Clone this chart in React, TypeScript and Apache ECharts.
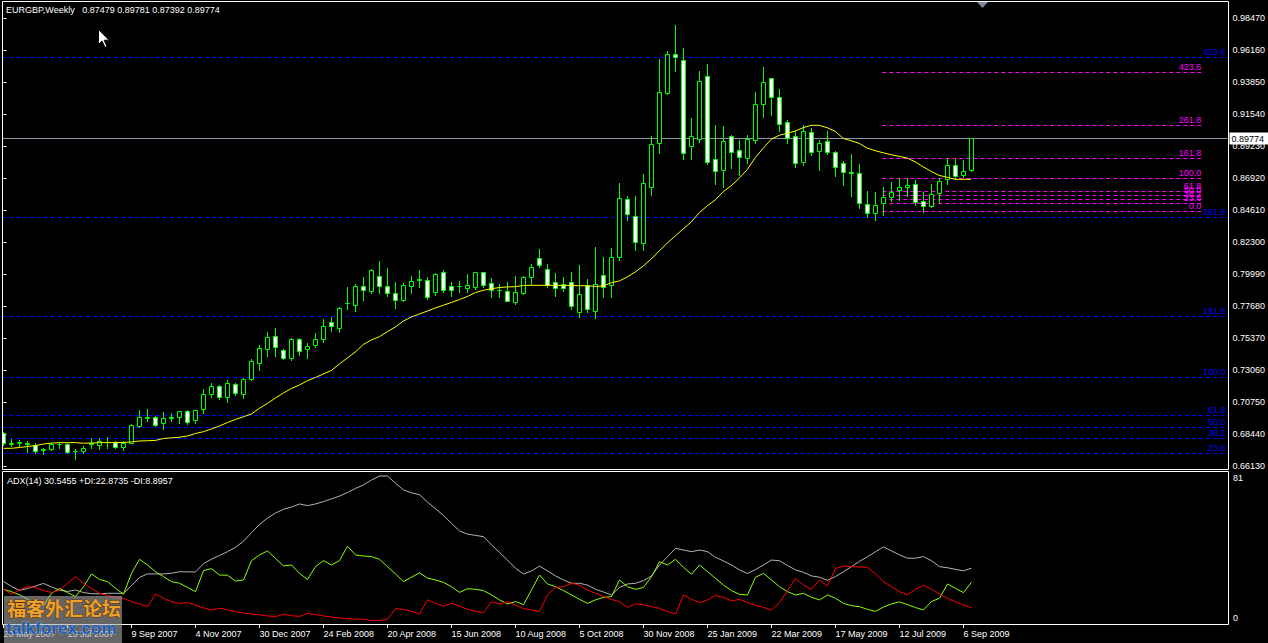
import React, { useEffect, useRef } from "react";
import * as echarts from "echarts";

const FONT = "'Liberation Sans', Arial, sans-serif";

const chartTitle = "EURGBP,Weekly   0.87479 0.89781 0.87392 0.89774";
const indicatorTitle = "ADX(14) 30.5455 +DI:22.8735 -DI:8.8957";
const watermarkCn = "福客外汇论坛";
const watermarkEn = "talkforex.com";

const dateLabels = [
  "20 May 2007", "15 Jul 2007", "9 Sep 2007", "4 Nov 2007", "30 Dec 2007", "24 Feb 2008",
  "20 Apr 2008", "15 Jun 2008", "10 Aug 2008", "5 Oct 2008", "30 Nov 2008", "25 Jan 2009",
  "22 Mar 2009", "17 May 2009", "12 Jul 2009", "6 Sep 2009",
];
const barsPerDateLabel = 8;

const priceTicks = [
  0.6613, 0.6844, 0.7075, 0.7306, 0.7537, 0.7768, 0.7999, 0.823, 0.8461, 0.8692,
  0.8923, 0.9154, 0.9385, 0.9616, 0.9847,
];
const adxTicks = [0, 81];

const opens = [
  0.6849, 0.6771, 0.6779, 0.6778, 0.6764, 0.6728, 0.6733, 0.6771, 0.6770, 0.6719,
  0.6723, 0.6774, 0.6762, 0.6788, 0.6786, 0.6748, 0.6781, 0.6903, 0.6960, 0.6964,
  0.6921, 0.6960, 0.6968, 0.7007, 0.6942, 0.7022, 0.7135, 0.7190, 0.7113, 0.7202,
  0.7132, 0.7238, 0.7358, 0.7457, 0.7549, 0.7450, 0.7394, 0.7527, 0.7455, 0.7484,
  0.7527, 0.7650, 0.7611, 0.7787, 0.7773, 0.7910, 0.7878, 0.7984, 0.7910, 0.7859,
  0.7811, 0.7914, 0.7957, 0.7953, 0.7866, 0.8011, 0.7910, 0.7909, 0.7900, 0.7907,
  0.8011, 0.7934, 0.7883, 0.7876, 0.7797, 0.7864, 0.7979, 0.8112, 0.8032, 0.7939,
  0.7929, 0.7939, 0.7727, 0.7917, 0.7734, 0.7992, 0.7917, 0.8119, 0.8538, 0.8420,
  0.8222, 0.8629, 0.8942, 0.9308, 0.9587, 0.9541, 0.8925, 0.8971, 0.9426, 0.8827,
  0.8748, 0.8993, 0.8892, 0.8834, 0.8964, 0.9224, 0.9412, 0.9274, 0.9094, 0.8997,
  0.8809, 0.9022, 0.8889, 0.8957, 0.8877, 0.8798, 0.8733, 0.8730, 0.8502, 0.8441,
  0.8514, 0.8557, 0.8608, 0.8629, 0.8646, 0.8526, 0.8492, 0.8586, 0.8682, 0.8783,
  0.8715, 0.87479,
];
const highs = [
  0.6858, 0.6807, 0.6800, 0.6791, 0.6777, 0.6745, 0.6781, 0.6788, 0.6781, 0.6735,
  0.6757, 0.6812, 0.6812, 0.6820, 0.6795, 0.6795, 0.6916, 0.7017, 0.7024, 0.6974,
  0.7000, 0.6995, 0.7011, 0.7017, 0.7019, 0.7168, 0.7210, 0.7195, 0.7231, 0.7210,
  0.7248, 0.7385, 0.7486, 0.7580, 0.7607, 0.7459, 0.7537, 0.7537, 0.7498, 0.7570,
  0.7674, 0.7686, 0.7763, 0.7903, 0.7927, 0.7975, 0.8032, 0.8093, 0.8042, 0.7941,
  0.7934, 0.7984, 0.8027, 0.7977, 0.8008, 0.8027, 0.7943, 0.7948, 0.7999, 0.8015,
  0.8015, 0.7970, 0.7927, 0.7941, 0.7984, 0.7984, 0.8071, 0.8177, 0.8069, 0.8003,
  0.7975, 0.8015, 0.8064, 0.7965, 0.8191, 0.8119, 0.8184, 0.8653, 0.8562, 0.8562,
  0.8721, 0.8993, 0.9551, 0.9609, 0.9796, 0.9630, 0.9125, 0.9464, 0.9515, 0.9074,
  0.9067, 0.9002, 0.8967, 0.9002, 0.9313, 0.9493, 0.9412, 0.9334, 0.9110, 0.9031,
  0.9072, 0.9055, 0.8967, 0.9031, 0.8887, 0.8815, 0.8865, 0.8793, 0.8598, 0.8589,
  0.8627, 0.8661, 0.8690, 0.8690, 0.8677, 0.8588, 0.8649, 0.8690, 0.8834, 0.8829,
  0.8822, 0.89781,
];
const lows = [
  0.6764, 0.6759, 0.6757, 0.6716, 0.6704, 0.6697, 0.6728, 0.6741, 0.6704, 0.6665,
  0.6709, 0.6745, 0.6737, 0.6745, 0.6741, 0.6728, 0.6777, 0.6896, 0.6939, 0.6901,
  0.6882, 0.6934, 0.6925, 0.6914, 0.6925, 0.6993, 0.7113, 0.7099, 0.7075, 0.7125,
  0.7106, 0.7233, 0.7306, 0.7406, 0.7406, 0.7385, 0.7378, 0.7414, 0.7394, 0.7469,
  0.7510, 0.7589, 0.7582, 0.7748, 0.7734, 0.7811, 0.7859, 0.7864, 0.7840, 0.7753,
  0.7804, 0.7864, 0.7907, 0.7820, 0.7845, 0.7871, 0.7840, 0.7869, 0.7869, 0.7893,
  0.7907, 0.7835, 0.7835, 0.7801, 0.7782, 0.7855, 0.7927, 0.8047, 0.7903, 0.7842,
  0.7876, 0.7744, 0.7690, 0.7724, 0.7681, 0.7833, 0.7833, 0.8100, 0.8386, 0.8170,
  0.8172, 0.8569, 0.8874, 0.9298, 0.9466, 0.8831, 0.8831, 0.8954, 0.8793, 0.8648,
  0.8629, 0.8762, 0.8714, 0.8798, 0.8942, 0.9132, 0.9149, 0.9033, 0.8947, 0.8773,
  0.8786, 0.8858, 0.8750, 0.8865, 0.8706, 0.8641, 0.8562, 0.8473, 0.8412, 0.8389,
  0.8425, 0.8528, 0.8533, 0.8564, 0.8497, 0.8446, 0.8485, 0.8509, 0.8646, 0.8690,
  0.8701, 0.87392,
];
const closes = [
  0.6777, 0.6781, 0.6786, 0.6770, 0.6723, 0.6737, 0.6771, 0.6774, 0.6716, 0.6724,
  0.6742, 0.6778, 0.6791, 0.6785, 0.6748, 0.6781, 0.6906, 0.6964, 0.6966, 0.6911,
  0.6957, 0.6968, 0.7007, 0.6932, 0.7015, 0.7130, 0.7190, 0.7109, 0.7210, 0.7142,
  0.7238, 0.7370, 0.7462, 0.7542, 0.7469, 0.7394, 0.7530, 0.7445, 0.7479, 0.7527,
  0.7621, 0.7621, 0.7751, 0.7790, 0.7910, 0.7885, 0.8025, 0.7910, 0.7864, 0.7813,
  0.7917, 0.7946, 0.7962, 0.7835, 0.7997, 0.7885, 0.7885, 0.7912, 0.7919, 0.8011,
  0.7921, 0.7881, 0.7886, 0.7806, 0.7869, 0.7977, 0.8047, 0.8066, 0.7921, 0.7895,
  0.7900, 0.7770, 0.7852, 0.7748, 0.7924, 0.7907, 0.8119, 0.8545, 0.8430, 0.8230,
  0.8654, 0.8935, 0.9313, 0.9587, 0.9563, 0.8870, 0.8993, 0.9392, 0.8805, 0.8740,
  0.8957, 0.8877, 0.8841, 0.8971, 0.9224, 0.9383, 0.9274, 0.9080, 0.8978, 0.8802,
  0.9029, 0.8882, 0.8942, 0.8882, 0.8773, 0.8737, 0.8726, 0.8514, 0.8441, 0.8495,
  0.8553, 0.8589, 0.8627, 0.8641, 0.8521, 0.8492, 0.8576, 0.8670, 0.8783, 0.8708,
  0.8739, 0.89774,
];
const movingAverage = [
  0.6740, 0.6740, 0.6746, 0.6753, 0.6760, 0.6771, 0.6778, 0.6781, 0.6781, 0.6781,
  0.6777, 0.6778, 0.6781, 0.6781, 0.6782, 0.6782, 0.6786, 0.6793, 0.6795, 0.6797,
  0.6811, 0.6816, 0.6820, 0.6829, 0.6847, 0.6860, 0.6880, 0.6901, 0.6926, 0.6948,
  0.6968, 0.6988, 0.7029, 0.7064, 0.7103, 0.7139, 0.7172, 0.7197, 0.7228, 0.7251,
  0.7277, 0.7302, 0.7349, 0.7392, 0.7436, 0.7490, 0.7522, 0.7546, 0.7582, 0.7616,
  0.7659, 0.7688, 0.7710, 0.7731, 0.7753, 0.7773, 0.7793, 0.7814, 0.7836, 0.7864,
  0.7881, 0.7892, 0.7901, 0.7905, 0.7907, 0.7916, 0.7917, 0.7917, 0.7917, 0.7917,
  0.7917, 0.7916, 0.7914, 0.7914, 0.7909, 0.7912, 0.7936, 0.7948, 0.7977, 0.8013,
  0.8056, 0.8107, 0.8165, 0.8222, 0.8273, 0.8324, 0.8374, 0.8441, 0.8490, 0.8533,
  0.8593, 0.8636, 0.8690, 0.8752, 0.8838, 0.8906, 0.8971, 0.9000, 0.9014, 0.9031,
  0.9055, 0.9072, 0.9072, 0.9055, 0.9029, 0.8978, 0.8961, 0.8942, 0.8908, 0.8889,
  0.8874, 0.8860, 0.8848, 0.8836, 0.8809, 0.8773, 0.8740, 0.8711, 0.8697, 0.8682,
  0.8682, 0.8682,
];
const adx = [
  23.3, 20.5, 18.4, 19.4, 20.8, 22.2, 20.3, 18.5, 17.8, 18.6,
  17.2, 16.6, 16.5, 16.8, 16.8, 16.8, 21.0, 25.5, 27.4, 27.4,
  27.4, 27.8, 28.6, 28.5, 28.5, 33.0, 35.5, 37.5, 39.6, 42.0,
  45.3, 50.0, 54.5, 58.0, 60.7, 62.8, 64.0, 65.7, 64.8, 65.7,
  67.0, 68.5, 70.0, 72.0, 74.2, 76.1, 78.8, 81.0, 81.0, 77.0,
  73.4, 71.8, 70.8, 66.7, 63.1, 59.4, 55.1, 50.9, 49.2, 48.5,
  47.8, 43.3, 39.2, 35.0, 30.5, 27.4, 29.0, 31.7, 29.1, 26.3,
  24.1, 22.3, 22.3, 21.3, 19.0, 17.5, 15.9, 20.0, 21.9, 22.3,
  23.7, 26.3, 32.3, 36.8, 41.4, 40.5, 39.6, 40.5, 39.6, 36.5,
  34.5, 32.3, 29.6, 27.6, 29.8, 32.3, 35.0, 34.6, 32.0, 29.6,
  28.3, 26.3, 25.6, 23.9, 26.0, 28.6, 31.4, 34.3, 36.8, 39.6,
  42.2, 40.0, 37.8, 36.0, 36.0, 36.9, 34.6, 31.4, 30.8, 29.9,
  29.1, 30.55,
];
const plusDI = [
  19.0, 17.7, 16.0, 13.5, 11.3, 9.8, 16.8, 19.5, 17.2, 15.0,
  20.4, 27.4, 24.4, 23.2, 19.5, 16.4, 27.7, 35.4, 32.3, 28.6,
  25.9, 23.2, 22.3, 20.0, 17.7, 29.2, 30.3, 26.8, 26.7, 23.5,
  24.1, 34.7, 37.8, 40.0, 35.9, 31.8, 32.3, 27.7, 24.4, 31.4,
  34.7, 32.3, 34.7, 42.6, 37.8, 37.2, 36.9, 35.4, 31.4, 27.4,
  23.2, 25.6, 28.0, 25.1, 24.1, 22.8, 20.4, 17.3, 19.3, 19.0,
  18.3, 15.9, 13.2, 11.0, 12.3, 10.6, 18.6, 26.8, 21.9, 20.4,
  18.3, 15.9, 13.5, 11.3, 13.2, 14.6, 15.0, 24.1, 20.4, 19.0,
  20.0, 25.9, 34.1, 32.3, 35.4, 31.0, 27.2, 32.3, 28.6, 25.0,
  21.3, 18.3, 16.2, 15.9, 25.6, 27.7, 24.1, 20.4, 17.7, 15.9,
  16.8, 14.6, 13.2, 15.9, 14.1, 11.3, 10.0, 9.5, 8.0, 6.9,
  9.3, 11.0, 12.1, 10.6, 9.0, 7.7, 12.3, 14.1, 21.9, 19.5,
  17.2, 22.87,
];
const minusDI = [
  19.2, 16.2, 18.6, 20.4, 20.0, 18.3, 17.2, 18.6, 22.3, 25.9,
  22.3, 19.5, 16.8, 15.6, 14.6, 14.0, 12.2, 11.0, 9.5, 16.4,
  14.0, 12.2, 11.3, 11.7, 10.4, 8.8, 7.7, 8.6, 7.7, 6.8,
  5.9, 5.5, 5.0, 4.4, 4.1, 5.3, 4.6, 4.1, 5.9, 5.1,
  4.4, 3.8, 3.3, 2.9, 2.7, 2.6, 1.8, 2.0, 2.6, 8.4,
  8.0, 6.9, 5.5, 13.2, 11.3, 9.8, 11.3, 9.8, 8.0, 6.9,
  6.2, 12.2, 11.0, 12.2, 10.4, 8.4, 7.7, 6.8, 15.9, 20.1,
  20.4, 22.3, 21.3, 18.6, 16.8, 15.0, 13.5, 12.2, 9.1, 11.0,
  10.6, 9.5, 8.6, 6.8, 5.5, 15.9, 13.5, 11.7, 13.2, 15.6,
  14.6, 12.6, 13.5, 11.7, 10.2, 9.1, 7.7, 11.7, 18.3, 25.0,
  21.3, 19.0, 24.1, 20.8, 30.4, 31.7, 31.4, 31.2, 31.0, 27.4,
  23.2, 20.4, 17.7, 16.0, 19.0, 21.2, 19.0, 16.4, 14.0, 12.2,
  10.4, 8.90,
];

// Fibonacci retracements
const blueFibLevels = ["23.6", "38.2", "50.0", "61.8", "100.0", "161.8", "261.8", "423.6"];
const blueFibPrices = [0.6707, 0.6811, 0.68955, 0.6980, 0.7253, 0.7695, 0.8410, 0.9567];
const magentaFibLevels = ["0.0", "23.6", "38.2", "50.0", "61.8", "100.0", "161.8", "261.8", "423.6"];
const magentaFibPrices = [0.8452, 0.8508, 0.8543, 0.8571, 0.8599, 0.8690, 0.8837, 0.9075, 0.9460];
const magentaFibFrom = 109.9;
const magentaFibTo = 149.8;
const currentPrice = 0.89774;
const currentPriceText = "0.89774";

const X_MIN = -0.1875;
const X_MAX = 153.0625;

function fibRenderer(levels: string[], color: string, labelInset: number) {
  return (params: any, api: any) => {
    const x1 = api.value(0);
    const x2 = api.value(1);
    const p = api.value(2);
    const a = api.coord([x1, p]);
    const b = api.coord([x2, p]);
    const y = Math.round(a[1]) + 0.5;
    return {
      type: "group",
      children: [
        {
          type: "line",
          shape: { x1: a[0], y1: y, x2: b[0], y2: y },
          style: { stroke: color, lineWidth: 1, lineDash: [4, 3] },
        },
        {
          type: "text",
          x: b[0] - labelInset,
          y: y - 1,
          style: {
            text: levels[params.dataIndex],
            fill: color,
            font: "9px " + FONT,
            align: "right",
            verticalAlign: "bottom",
            textAlign: "right",
            textVerticalAlign: "bottom",
          },
        },
      ],
    };
  };
}

export default function App() {
  const ref = useRef<HTMLDivElement>(null);

  useEffect(() => {
    const chart = echarts.init(ref.current as HTMLDivElement, null, { renderer: "svg" });

    const candleData = opens.map((o, i) => [i, o, closes[i], lows[i], highs[i]]);
    const labelPositions = dateLabels.map((_, i) => i * barsPerDateLabel);
    const textStyleBase = { fontFamily: FONT, fontSize: 9 };

    const option: any = {
      animation: false,
      backgroundColor: "#000",
      grid: [
        { left: 2, top: 2, width: 1226, height: 467, show: false },
        { left: 2, top: 471, width: 1226, height: 154, show: false },
      ],
      xAxis: [
        { type: "value", gridIndex: 0, min: X_MIN, max: X_MAX, show: false },
        {
          type: "value",
          gridIndex: 1,
          min: X_MIN,
          max: X_MAX,
          axisLine: { show: false },
          splitLine: { show: false },
          axisTick: { show: true, customValues: labelPositions, length: 4, lineStyle: { color: "#fff" } },
          axisLabel: {
            show: true,
            customValues: labelPositions,
            formatter: (v: number) => dateLabels[Math.round(v / barsPerDateLabel)] ?? "",
            color: "#fff",
            align: "left",
            margin: 4,
            ...textStyleBase,
          },
        },
      ],
      yAxis: [
        {
          type: "value",
          gridIndex: 0,
          position: "right",
          min: 0.65907,
          max: 0.99625,
          splitLine: { show: false },
          axisLine: { show: false },
          axisTick: { show: true, customValues: priceTicks, length: 3, lineStyle: { color: "#fff" } },
          axisLabel: {
            customValues: priceTicks,
            formatter: (v: number) => v.toFixed(5),
            color: "#fff",
            margin: 5,
            ...textStyleBase,
          },
        },
        {
          type: "value",
          gridIndex: 1,
          position: "right",
          min: -0.55,
          max: 83.74,
          splitLine: { show: false },
          axisLine: { show: false },
          axisTick: { show: false },
          axisLabel: {
            customValues: adxTicks,
            formatter: (v: number) => (v === 0 ? "{lo|" + v + "}" : "{hi|" + v + "}"),
            color: "#fff",
            margin: 5,
            ...textStyleBase,
            rich: {
              lo: { color: "#fff", padding: [0, 0, 12, 0], ...textStyleBase },
              hi: { color: "#fff", padding: [4, 0, 0, 0], ...textStyleBase },
            },
          },
        },
      ],
      series: [
        {
          type: "custom",
          name: "Fibo blue",
          xAxisIndex: 0,
          yAxisIndex: 0,
          clip: true,
          z: 1,
          silent: true,
          data: blueFibPrices.map((p) => [X_MIN, X_MAX, p]),
          encode: { x: [0, 1], y: 2 },
          renderItem: fibRenderer(blueFibLevels, "#0000ff", 2),
        },
        {
          type: "custom",
          name: "Fibo magenta",
          xAxisIndex: 0,
          yAxisIndex: 0,
          clip: true,
          z: 2,
          silent: true,
          data: magentaFibPrices.map((p) => [magentaFibFrom, magentaFibTo, p]),
          encode: { x: [0, 1], y: 2 },
          renderItem: fibRenderer(magentaFibLevels, "#ff00ff", 0),
        },
        {
          type: "custom",
          name: "Bid line",
          xAxisIndex: 0,
          yAxisIndex: 0,
          clip: false,
          z: 4,
          silent: true,
          data: [[X_MIN, X_MAX, currentPrice]],
          encode: { x: [0, 1], y: 2 },
          renderItem: (_params: any, api: any) => {
            const a = api.coord([api.value(0), api.value(2)]);
            const b = api.coord([api.value(1), api.value(2)]);
            const y = Math.round(a[1]) + 0.5;
            return {
              type: "group",
              children: [
                {
                  type: "line",
                  shape: { x1: a[0], y1: y, x2: b[0], y2: y },
                  style: { stroke: "#8a98a6", lineWidth: 1 },
                },
                {
                  type: "text",
                  x: b[0] + 2,
                  y: y,
                  style: {
                    text: currentPriceText,
                    fill: "#000",
                    backgroundColor: "#fff",
                    padding: [2, 4, 1, 2],
                    font: "9px " + FONT,
                    align: "left",
                    verticalAlign: "middle",
                    textAlign: "left",
                    textVerticalAlign: "middle",
                  },
                },
              ],
            };
          },
        },
        {
          type: "custom",
          name: "EURGBP",
          xAxisIndex: 0,
          yAxisIndex: 0,
          clip: true,
          z: 10,
          data: candleData,
          encode: { x: 0, y: [1, 2, 3, 4] },
          renderItem: (_params: any, api: any) => {
            const k = api.value(0);
            const o = api.value(1);
            const c = api.value(2);
            const l = api.value(3);
            const h = api.value(4);
            const pO = api.coord([k, o]);
            const pC = api.coord([k, c]);
            const pH = api.coord([k, h]);
            const pL = api.coord([k, l]);
            const x = Math.floor(pO[0]) + 0.5;
            const yO = Math.round(pO[1]) + 0.5;
            const yC = Math.round(pC[1]) + 0.5;
            const top = Math.min(yO, yC);
            const bot = Math.max(yO, yC);
            const bull = c >= o;
            return {
              type: "group",
              children: [
                {
                  type: "line",
                  shape: { x1: x, y1: Math.round(pH[1]), x2: x, y2: Math.round(pL[1]) + 1 },
                  style: { stroke: "#00ff00", lineWidth: 1 },
                },
                {
                  type: "rect",
                  shape: { x: x - 2, y: top, width: 4, height: bot - top },
                  style: { fill: bull ? "#000" : "#fff", stroke: "#00ff00", lineWidth: 1 },
                },
              ],
            };
          },
        },
        {
          type: "line",
          name: "MA",
          xAxisIndex: 0,
          yAxisIndex: 0,
          z: 12,
          data: movingAverage.map((v, i) => [i, v]),
          symbol: "none",
          lineStyle: { color: "#ffff00", width: 1 },
        },
        {
          type: "line",
          name: "ADX",
          xAxisIndex: 1,
          yAxisIndex: 1,
          data: adx.map((v, i) => [i, v]),
          symbol: "none",
          lineStyle: { color: "#b4b4b4", width: 1 },
        },
        {
          type: "line",
          name: "+DI",
          xAxisIndex: 1,
          yAxisIndex: 1,
          data: plusDI.map((v, i) => [i, v]),
          symbol: "none",
          lineStyle: { color: "#8cff00", width: 1 },
        },
        {
          type: "line",
          name: "-DI",
          xAxisIndex: 1,
          yAxisIndex: 1,
          data: minusDI.map((v, i) => [i, v]),
          symbol: "none",
          lineStyle: { color: "#ff0000", width: 1 },
        },
      ],
      graphic: [
        {
          type: "rect",
          z: 50,
          silent: true,
          shape: { x: 2.5, y: 1.5, width: 1226, height: 468 },
          style: { fill: "none", stroke: "#fff", lineWidth: 1 },
        },
        {
          type: "rect",
          z: 50,
          silent: true,
          shape: { x: 2.5, y: 471.5, width: 1226, height: 153 },
          style: { fill: "none", stroke: "#fff", lineWidth: 1 },
        },
        {
          type: "text",
          z: 51,
          left: 6,
          top: 5,
          style: { text: chartTitle, fill: "#fff", font: "9px " + FONT },
        },
        {
          type: "text",
          z: 51,
          left: 7,
          top: 476,
          style: { text: indicatorTitle, fill: "#fff", font: "9px " + FONT },
        },
        {
          type: "polygon",
          z: 51,
          silent: true,
          shape: { points: [[977, 2], [988, 2], [982.5, 8]] },
          style: { fill: "#7d8a97" },
        },
        {
          type: "polygon",
          z: 60,
          silent: true,
          shape: {
            points: [[98.5, 29.5], [98.5, 44.5], [102, 41], [105, 47.5], [107, 46.5], [104.2, 40.2], [109, 40.2]],
          },
          style: { fill: "#fff", stroke: "#000", lineWidth: 1 },
        },
        {
          type: "rect",
          z: 70,
          silent: true,
          shape: { x: 4, y: 596, width: 118, height: 47 },
          style: { fill: "rgba(165,165,165,0.62)" },
        },
        {
          type: "text",
          z: 71,
          silent: true,
          x: 7,
          y: 598,
          style: {
            text: watermarkCn,
            fill: "#eca22a",
            stroke: "#5a2e0c",
            lineWidth: 1,
            font: "bold 19px 'Noto Sans CJK SC', sans-serif",
          },
        },
        {
          type: "text",
          z: 72,
          silent: true,
          x: 6,
          y: 620,
          style: {
            text: watermarkEn,
            fill: "#1a5cb8",
            stroke: "rgba(230,236,245,0.7)",
            lineWidth: 0.6,
            font: "bold 17px 'Liberation Sans', Arial, sans-serif",
          },
        },
      ],
    };

    chart.setOption(option);
    return () => {
      chart.dispose();
    };
  }, []);

  return (
    <div
      ref={ref}
      style={{ position: "fixed", left: 0, top: 0, width: 1268, height: 643, background: "#000" }}
    />
  );
}
